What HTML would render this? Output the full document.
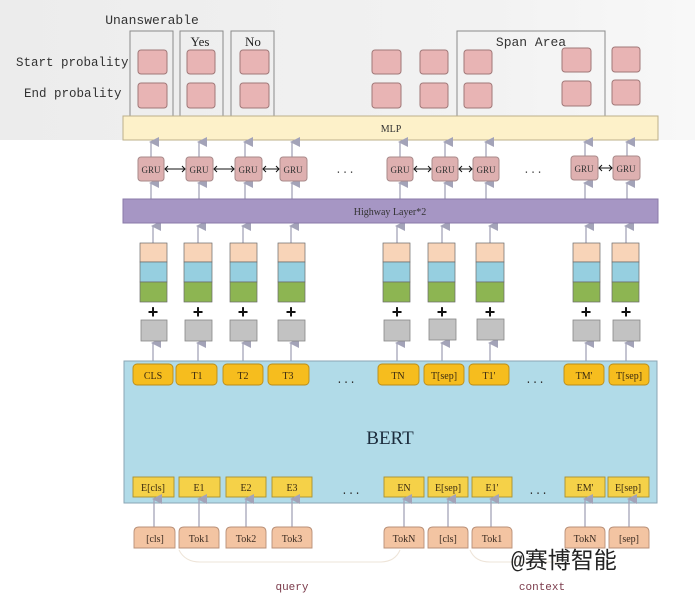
<!DOCTYPE html>
<html><head><meta charset="utf-8"><style>
html,body{margin:0;padding:0;background:#fff;}
svg{display:block;}
text{font-family:"Liberation Mono",monospace;}
.s{font-family:"Liberation Serif","Noto Serif CJK SC",serif;}
</style></head><body>
<svg width="695" height="604" viewBox="0 0 695 604" xmlns="http://www.w3.org/2000/svg">
<defs>
<linearGradient id="bg" x1="0" y1="0" x2="1" y2="0"><stop offset="0" stop-color="#ececec"/><stop offset="0.7" stop-color="#f2f2f2"/><stop offset="1" stop-color="#f8f8f8"/></linearGradient>
<marker id="ah" viewBox="0 0 10 10" refX="5" refY="2" markerWidth="10" markerHeight="10" markerUnits="userSpaceOnUse" orient="auto-start-reverse"><path d="M0,10 L5,0 L10,10 Z" fill="#a3a3b8"/></marker>
</defs>
<rect x="0" y="0" width="695" height="140" fill="url(#bg)"/>

<text x="152" y="24" font-size="13" text-anchor="middle" fill="#333">Unanswerable</text>
<text x="16" y="66" font-size="12.5" fill="#333">Start probality</text>
<text x="24" y="97" font-size="12.5" fill="#333">End probality</text>

<g fill="none" stroke="#8a8a8a" stroke-width="1">
<rect x="130" y="31" width="43" height="85"/>
<rect x="180" y="31" width="43" height="85"/>
<rect x="231" y="31" width="43" height="85"/>
<rect x="457" y="31" width="148" height="85"/>
</g>
<text x="200" y="46" font-size="13" class="s" text-anchor="middle" fill="#222">Yes</text>
<text x="253" y="46" font-size="13" class="s" text-anchor="middle" fill="#222">No</text>
<text x="531" y="46" font-size="13" text-anchor="middle" fill="#333">Span Area</text>

<g fill="#e8b4b4" stroke="#a07878" stroke-width="1">
<rect x="138" y="50" width="29" height="24" rx="3"/><rect x="138" y="83" width="29" height="25" rx="3"/>
<rect x="187" y="50" width="28" height="24" rx="3"/><rect x="187" y="83" width="28" height="25" rx="3"/>
<rect x="240" y="50" width="29" height="24" rx="3"/><rect x="240" y="83" width="29" height="25" rx="3"/>
<rect x="372" y="50" width="29" height="24" rx="3"/><rect x="372" y="83" width="29" height="25" rx="3"/>
<rect x="420" y="50" width="28" height="24" rx="3"/><rect x="420" y="83" width="28" height="25" rx="3"/>
<rect x="464" y="50" width="28" height="24" rx="3"/><rect x="464" y="83" width="28" height="25" rx="3"/>
<rect x="562" y="48" width="29" height="24" rx="3"/><rect x="562" y="81" width="29" height="25" rx="3"/>
<rect x="612" y="47" width="28" height="25" rx="3"/><rect x="612" y="80" width="28" height="25" rx="3"/>
</g>

<rect x="123" y="116" width="535" height="24" fill="#fdf1c9" stroke="#bdb08a"/>
<text x="391" y="132" font-size="10" class="s" text-anchor="middle" fill="#333">MLP</text>

<g stroke="#a3a3b8" stroke-width="1.3" marker-end="url(#ah)">
<line x1="151" y1="157" x2="151" y2="142"/><line x1="199" y1="157" x2="199" y2="142"/><line x1="245" y1="157" x2="245" y2="142"/><line x1="292" y1="157" x2="292" y2="142"/>
<line x1="400" y1="157" x2="400" y2="142"/><line x1="445" y1="157" x2="445" y2="142"/><line x1="486" y1="157" x2="486" y2="142"/><line x1="585" y1="157" x2="585" y2="142"/><line x1="627" y1="157" x2="627" y2="142"/>
<line x1="151" y1="199" x2="151" y2="183"/><line x1="199" y1="199" x2="199" y2="183"/><line x1="245" y1="199" x2="245" y2="183"/><line x1="292" y1="199" x2="292" y2="183"/>
<line x1="400" y1="199" x2="400" y2="183"/><line x1="445" y1="199" x2="445" y2="183"/><line x1="486" y1="199" x2="486" y2="183"/><line x1="585" y1="199" x2="585" y2="183"/><line x1="627" y1="199" x2="627" y2="183"/>
<line x1="153" y1="243" x2="153" y2="226"/><line x1="198" y1="243" x2="198" y2="226"/><line x1="243" y1="243" x2="243" y2="226"/><line x1="291" y1="243" x2="291" y2="226"/>
<line x1="397" y1="243" x2="397" y2="226"/><line x1="442" y1="243" x2="442" y2="226"/><line x1="490" y1="243" x2="490" y2="226"/><line x1="586" y1="243" x2="586" y2="226"/><line x1="626" y1="243" x2="626" y2="226"/>
<line x1="153" y1="364" x2="153" y2="343"/><line x1="198" y1="364" x2="198" y2="343"/><line x1="243" y1="364" x2="243" y2="343"/><line x1="291" y1="364" x2="291" y2="343"/>
<line x1="397" y1="364" x2="397" y2="343"/><line x1="442" y1="364" x2="442" y2="343"/><line x1="490" y1="364" x2="490" y2="343"/><line x1="586" y1="364" x2="586" y2="343"/><line x1="626" y1="364" x2="626" y2="343"/>
</g>

<g fill="#deb0b0" stroke="#a88a8a" stroke-width="1">
<rect x="138" y="157" width="26" height="24" rx="3"/><rect x="186" y="157" width="27" height="24" rx="3"/><rect x="235" y="157" width="27" height="24" rx="3"/><rect x="280" y="157" width="27" height="24" rx="3"/>
<rect x="387" y="157" width="26" height="24" rx="3"/><rect x="432" y="157" width="26" height="24" rx="3"/><rect x="473" y="157" width="26" height="24" rx="3"/><rect x="571" y="156" width="27" height="24" rx="3"/><rect x="613" y="156" width="27" height="24" rx="3"/>
</g>
<g font-size="9" class="s" text-anchor="middle" fill="#333">
<text x="151" y="173" class="s">GRU</text><text x="199" y="173" class="s">GRU</text><text x="248" y="173" class="s">GRU</text><text x="293" y="173" class="s">GRU</text>
<text x="400" y="173" class="s">GRU</text><text x="445" y="173" class="s">GRU</text><text x="486" y="173" class="s">GRU</text><text x="584" y="172" class="s">GRU</text><text x="626" y="172" class="s">GRU</text>
</g>
<g stroke="#111" stroke-width="1" fill="none">
<path d="M165,169 H185 M168,166 L165,169 L168,172 M182,166 L185,169 L182,172"/>
<path d="M214,169 H234 M217,166 L214,169 L217,172 M231,166 L234,169 L231,172"/>
<path d="M263,169 H279 M266,166 L263,169 L266,172 M276,166 L279,169 L276,172"/>
<path d="M414,169 H431 M417,166 L414,169 L417,172 M428,166 L431,169 L428,172"/>
<path d="M459,169 H472 M462,166 L459,169 L462,172 M469,166 L472,169 L469,172"/>
<path d="M599,168 H612 M602,165 L599,168 L602,171 M609,165 L612,168 L609,171"/>
</g>
<text x="345" y="173" font-size="11" text-anchor="middle" fill="#555">...</text>
<text x="533" y="173" font-size="11" text-anchor="middle" fill="#555">...</text>

<rect x="123" y="199" width="535" height="24" fill="#a696c4" stroke="#8a7aa8"/>
<text x="390" y="215" font-size="10" class="s" text-anchor="middle" fill="#333">Highway Layer*2</text>

<g stroke="#6a6a6a" stroke-width="0.7">
<rect x="140" y="243" width="27" height="19" fill="#f8d4b8"/><rect x="140" y="262" width="27" height="20" fill="#96cfe0"/><rect x="140" y="282" width="27" height="20" fill="#8db552"/>
<rect x="184" y="243" width="28" height="19" fill="#f8d4b8"/><rect x="184" y="262" width="28" height="20" fill="#96cfe0"/><rect x="184" y="282" width="28" height="20" fill="#8db552"/>
<rect x="230" y="243" width="27" height="19" fill="#f8d4b8"/><rect x="230" y="262" width="27" height="20" fill="#96cfe0"/><rect x="230" y="282" width="27" height="20" fill="#8db552"/>
<rect x="278" y="243" width="27" height="19" fill="#f8d4b8"/><rect x="278" y="262" width="27" height="20" fill="#96cfe0"/><rect x="278" y="282" width="27" height="20" fill="#8db552"/>
<rect x="383" y="243" width="27" height="19" fill="#f8d4b8"/><rect x="383" y="262" width="27" height="20" fill="#96cfe0"/><rect x="383" y="282" width="27" height="20" fill="#8db552"/>
<rect x="428" y="243" width="27" height="19" fill="#f8d4b8"/><rect x="428" y="262" width="27" height="20" fill="#96cfe0"/><rect x="428" y="282" width="27" height="20" fill="#8db552"/>
<rect x="476" y="243" width="28" height="19" fill="#f8d4b8"/><rect x="476" y="262" width="28" height="20" fill="#96cfe0"/><rect x="476" y="282" width="28" height="20" fill="#8db552"/>
<rect x="573" y="243" width="27" height="19" fill="#f8d4b8"/><rect x="573" y="262" width="27" height="20" fill="#96cfe0"/><rect x="573" y="282" width="27" height="20" fill="#8db552"/>
<rect x="612" y="243" width="27" height="19" fill="#f8d4b8"/><rect x="612" y="262" width="27" height="20" fill="#96cfe0"/><rect x="612" y="282" width="27" height="20" fill="#8db552"/>
</g>
<g font-size="18" font-weight="bold" text-anchor="middle" fill="#111">
<text x="153" y="318" font-family="Liberation Sans">+</text><text x="198" y="318" font-family="Liberation Sans">+</text><text x="243" y="318" font-family="Liberation Sans">+</text><text x="291" y="318" font-family="Liberation Sans">+</text>
<text x="397" y="318" font-family="Liberation Sans">+</text><text x="442" y="318" font-family="Liberation Sans">+</text><text x="490" y="318" font-family="Liberation Sans">+</text><text x="586" y="318" font-family="Liberation Sans">+</text><text x="626" y="318" font-family="Liberation Sans">+</text>
</g>
<g fill="#c2c2c2" stroke="#888" stroke-width="0.8">
<rect x="141" y="320" width="26" height="21"/><rect x="185" y="320" width="27" height="21"/><rect x="230" y="320" width="27" height="21"/><rect x="278" y="320" width="27" height="21"/>
<rect x="384" y="320" width="26" height="21"/><rect x="429" y="319" width="27" height="21"/><rect x="477" y="319" width="27" height="21"/><rect x="573" y="320" width="27" height="21"/><rect x="613" y="320" width="27" height="21"/>
</g>

<rect x="124" y="361" width="533" height="142" fill="#b1dbe8" stroke="#8aa6b4"/>
<text x="390" y="444" font-size="19" class="s" text-anchor="middle" fill="#1d2d3d">BERT</text>
<g fill="#f6bd1e" stroke="#b98c1a" stroke-width="0.9">
<rect x="133" y="364" width="40" height="21" rx="4"/><rect x="176" y="364" width="41" height="21" rx="4"/><rect x="223" y="364" width="40" height="21" rx="4"/><rect x="268" y="364" width="41" height="21" rx="4"/>
<rect x="378" y="364" width="41" height="21" rx="4"/><rect x="424" y="364" width="40" height="21" rx="4"/><rect x="469" y="364" width="40" height="21" rx="4"/><rect x="564" y="364" width="40" height="21" rx="4"/><rect x="609" y="364" width="40" height="21" rx="4"/>
</g>
<g font-size="10" class="s" text-anchor="middle" fill="#3a2a10">
<text x="153" y="379" class="s">CLS</text><text x="197" y="379" class="s">T1</text><text x="243" y="379" class="s">T2</text><text x="288" y="379" class="s">T3</text>
<text x="398" y="379" class="s">TN</text><text x="444" y="379" class="s">T[sep]</text><text x="489" y="379" class="s">T1'</text><text x="584" y="379" class="s">TM'</text><text x="629" y="379" class="s">T[sep]</text>
</g>
<text x="346" y="383" font-size="11" text-anchor="middle" fill="#333">...</text>
<text x="535" y="383" font-size="11" text-anchor="middle" fill="#333">...</text>

<g fill="#f5d148" stroke="#a98f30" stroke-width="0.9">
<rect x="133" y="477" width="41" height="20"/><rect x="179" y="477" width="41" height="20"/><rect x="226" y="477" width="40" height="20"/><rect x="272" y="477" width="40" height="20"/>
<rect x="384" y="477" width="40" height="20"/><rect x="428" y="477" width="40" height="20"/><rect x="472" y="477" width="40" height="20"/><rect x="565" y="477" width="40" height="20"/><rect x="608" y="477" width="41" height="20"/>
</g>
<g font-size="10" class="s" text-anchor="middle" fill="#3a2a10">
<text x="153" y="491" class="s">E[cls]</text><text x="199" y="491" class="s">E1</text><text x="246" y="491" class="s">E2</text><text x="292" y="491" class="s">E3</text>
<text x="404" y="491" class="s">EN</text><text x="448" y="491" class="s">E[sep]</text><text x="492" y="491" class="s">E1'</text><text x="585" y="491" class="s">EM'</text><text x="628" y="491" class="s">E[sep]</text>
</g>
<text x="351" y="494" font-size="11" text-anchor="middle" fill="#333">...</text>
<text x="538" y="494" font-size="11" text-anchor="middle" fill="#333">...</text>

<g stroke="#a3a3b8" stroke-width="1.3" marker-end="url(#ah)">
<line x1="154" y1="527" x2="154" y2="499"/><line x1="199" y1="527" x2="199" y2="499"/><line x1="246" y1="527" x2="246" y2="499"/><line x1="292" y1="527" x2="292" y2="499"/>
<line x1="404" y1="527" x2="404" y2="499"/><line x1="448" y1="527" x2="448" y2="499"/><line x1="491" y1="527" x2="491" y2="499"/><line x1="585" y1="527" x2="585" y2="499"/><line x1="629" y1="527" x2="629" y2="499"/>
</g>

<g fill="#f3c4a2" stroke="#b89078" stroke-width="0.9">
<path d="M134,548 V532 Q134,527 139,527 H170 Q175,527 175,532 V548 Z"/>
<path d="M179,548 V532 Q179,527 184,527 H214 Q219,527 219,532 V548 Z"/>
<path d="M226,548 V532 Q226,527 231,527 H261 Q266,527 266,532 V548 Z"/>
<path d="M272,548 V532 Q272,527 277,527 H307 Q312,527 312,532 V548 Z"/>
<path d="M384,548 V532 Q384,527 389,527 H419 Q424,527 424,532 V548 Z"/>
<path d="M428,548 V532 Q428,527 433,527 H463 Q468,527 468,532 V548 Z"/>
<path d="M472,548 V532 Q472,527 477,527 H507 Q512,527 512,532 V548 Z"/>
<path d="M565,548 V532 Q565,527 570,527 H600 Q605,527 605,532 V548 Z"/>
<path d="M609,548 V532 Q609,527 614,527 H644 Q649,527 649,532 V548 Z"/>
</g>
<g font-size="10" class="s" text-anchor="middle" fill="#3a2a20">
<text x="155" y="542" class="s">[cls]</text><text x="199" y="542" class="s">Tok1</text><text x="246" y="542" class="s">Tok2</text><text x="292" y="542" class="s">Tok3</text>
<text x="404" y="542" class="s">TokN</text><text x="448" y="542" class="s">[cls]</text><text x="492" y="542" class="s">Tok1</text><text x="585" y="542" class="s">TokN</text><text x="629" y="542" class="s">[sep]</text>
</g>

<g fill="none" stroke="#eee4d8" stroke-width="1">
<path d="M179,550 Q185,562 200,562 H380 Q395,562 400,550"/>
<path d="M470,550 Q475,562 490,562 H560"/>
</g>
<text x="292" y="590" font-size="11" text-anchor="middle" fill="#7a3a4a">query</text>
<text x="542" y="590" font-size="11" text-anchor="middle" fill="#7a3a4a">context</text>

<text x="511" y="568" font-size="23" fill="#222" font-family="Liberation Sans, 'Noto Sans CJK SC', sans-serif">@赛博智能</text>
</svg>
</body></html>
